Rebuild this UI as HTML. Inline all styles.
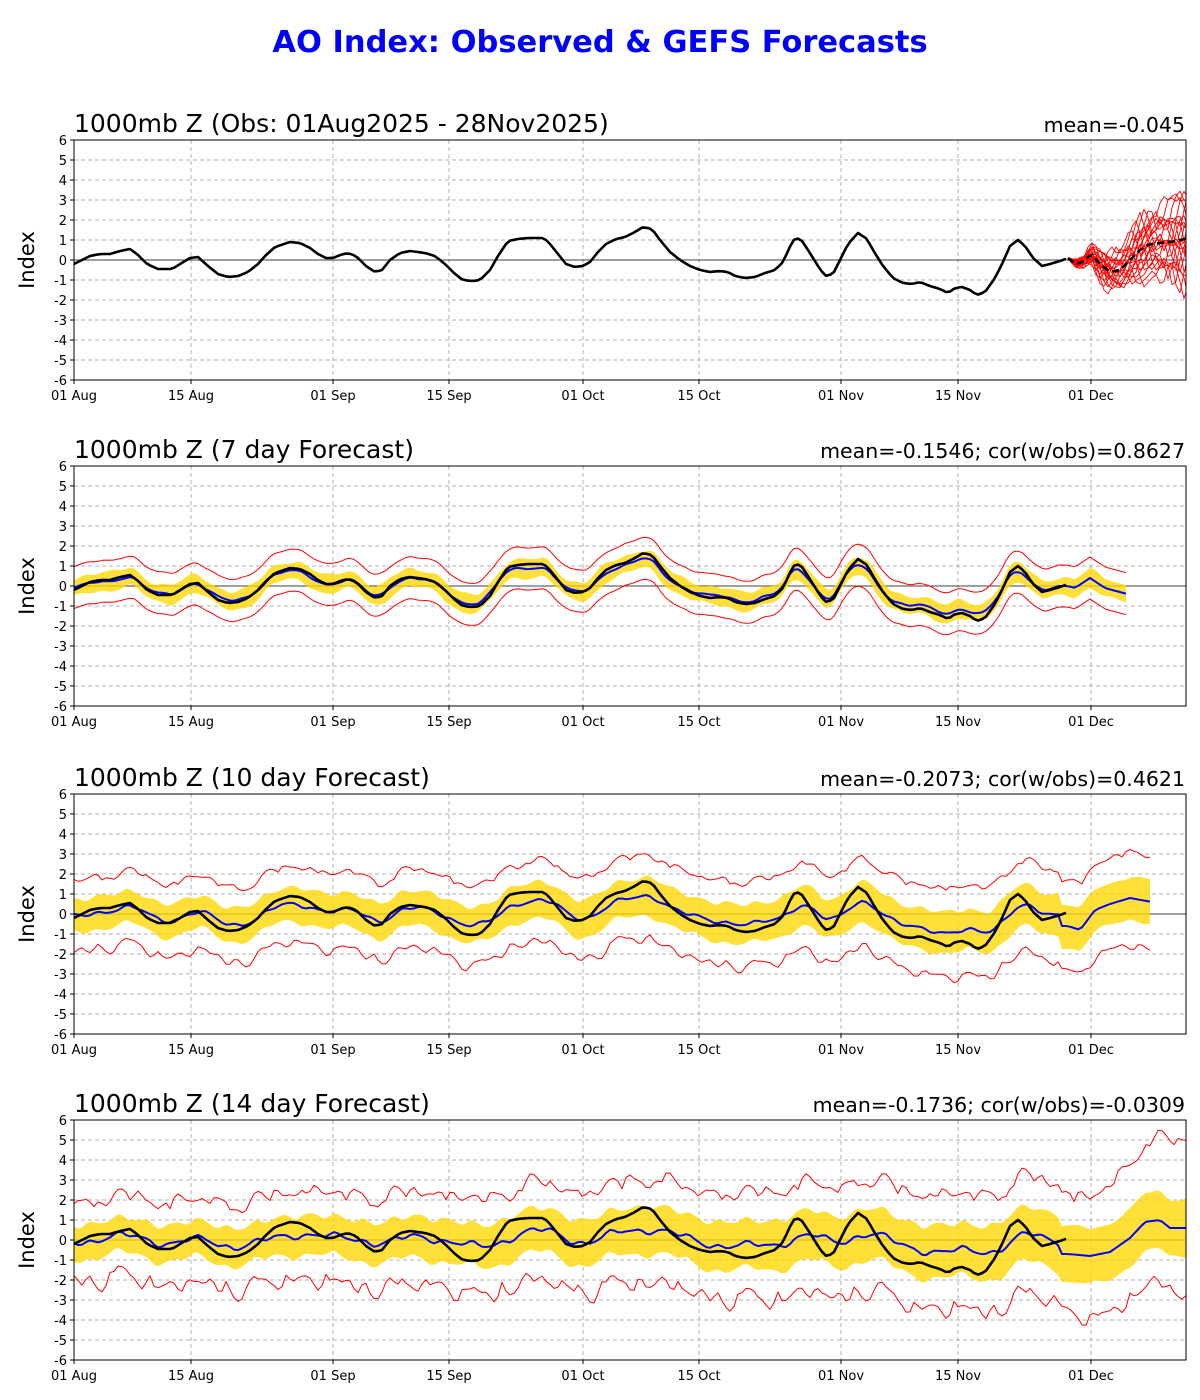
<!DOCTYPE html>
<html><head><meta charset="utf-8"><style>
body{margin:0;background:#fff;}
svg{display:block;font-family:"DejaVu Sans","Liberation Sans",sans-serif;}
</style></head><body>
<svg id="s" width="1200" height="1400" viewBox="0 0 1200 1400" xmlns="http://www.w3.org/2000/svg">
<rect width="1200" height="1400" fill="#fff"/>
<text x="600" y="52" text-anchor="middle" font-size="30.5" font-weight="bold" fill="#0000ff">AO Index: Observed &amp; GEFS Forecasts</text>
<text x="74" y="132" font-size="25">1000mb Z (Obs: 01Aug2025 - 28Nov2025)</text>
<text x="1185" y="132" font-size="20.5" text-anchor="end">mean=-0.045</text>
<text x="74" y="458" font-size="25">1000mb Z (7 day Forecast)</text>
<text x="1185" y="458" font-size="20.5" text-anchor="end">mean=-0.1546; cor(w/obs)=0.8627</text>
<text x="74" y="786" font-size="25">1000mb Z (10 day Forecast)</text>
<text x="1185" y="786" font-size="20.5" text-anchor="end">mean=-0.2073; cor(w/obs)=0.4621</text>
<text x="74" y="1112" font-size="25">1000mb Z (14 day Forecast)</text>
<text x="1185" y="1112" font-size="20.5" text-anchor="end">mean=-0.1736; cor(w/obs)=-0.0309</text>
<g id="g"></g>
</svg>
<script>
var NS="http://www.w3.org/2000/svg",G=document.getElementById('g');
function el(t,a,p){var e=document.createElementNS(NS,t);for(var k in a)e.setAttribute(k,a[k]);(p||G).appendChild(e);return e;}
var tops=[140,466,794,1120],X0=74,X1=1186;
var xt=[[74,"01 Aug"],[191,"15 Aug"],[333,"01 Sep"],[449,"15 Sep"],[583,"01 Oct"],[699,"15 Oct"],[841,"01 Nov"],[958,"15 Nov"],[1091,"01 Dec"]];
var obsP=[[74,-0.2],[90,0.2],[100,0.3],[110,0.3],[120,0.45],[130,0.55],[137,0.3],[147,-0.2],[158,-0.45],[172,-0.45],[180,-0.2],[190,0.1],[198,0.15],[208,-0.3],[218,-0.7],[228,-0.85],[238,-0.8],[248,-0.6],[258,-0.2],[265,0.2],[275,0.65],[290,0.9],[300,0.85],[310,0.6],[318,0.3],[326,0.1],[333,0.1],[340,0.25],[348,0.35],[356,0.2],[366,-0.3],[375,-0.6],[382,-0.5],[390,0],[400,0.35],[410,0.45],[425,0.35],[435,0.2],[445,-0.2],[455,-0.7],[463,-1.0],[472,-1.05],[480,-1.0],[490,-0.5],[498,0.2],[508,0.95],[518,1.05],[528,1.1],[536,1.1],[544,1.1],[550,0.8],[558,0.3],[566,-0.2],[575,-0.35],[583,-0.3],[590,-0.1],[598,0.4],[606,0.8],[616,1.05],[625,1.15],[635,1.4],[643,1.65],[652,1.55],[660,1.0],[670,0.4],[680,0.0],[690,-0.3],[700,-0.5],[710,-0.6],[720,-0.55],[728,-0.6],[735,-0.8],[745,-0.9],[755,-0.85],[765,-0.65],[775,-0.5],[783,-0.1],[793,1.0],[800,1.1],[808,0.5],[818,-0.3],[825,-0.8],[833,-0.7],[840,0],[848,0.8],[858,1.35],[867,1.05],[873,0.5],[883,-0.3],[893,-0.9],[903,-1.15],[912,-1.2],[920,-1.1],[930,-1.3],[940,-1.45],[948,-1.65],[955,-1.4],[962,-1.35],[970,-1.5],[977,-1.75],[985,-1.6],[995,-0.9],[1003,-0.1],[1010,0.7],[1018,1.0],[1025,0.7],[1033,0.1],[1042,-0.3],[1050,-0.2],[1060,-0.05],[1068,0.1]];
function interp(P,x){if(x<=P[0][0])return P[0][1];for(var i=1;i<P.length;i++){if(x<=P[i][0]){var a=P[i-1],b=P[i];return a[1]+(b[1]-a[1])*(x-a[0])/(b[0]-a[0]);}}return P[P.length-1][1];}
function sm(P,x,w){var s=0,n=0;for(var d=-w;d<=w;d+=2){s+=interp(P,x+d);n++;}return s/n;}
function nz(x,k){return Math.sin(x*0.09+k)*0.55+Math.sin(x*0.23+2*k)*0.35+Math.sin(x*0.41+k*3)*0.12;}
function path(pts,top){return pts.map(function(p,i){return (i?"L":"M")+p[0].toFixed(1)+","+(top+120-p[1]*20).toFixed(1);}).join("");}
function line(pts,top,c,w,extra){var a={d:path(pts,top),fill:"none",stroke:c,"stroke-width":w,"stroke-linejoin":"round","clip-path":"url(#c"+top+")"};for(var k in extra)a[k]=extra[k];el("path",a);}
function band(lo,hi,top){var d=path(hi,top)+path(lo.slice().reverse(),top).replace("M","L")+"Z";el("path",{d:d,fill:"#ffd700",opacity:0.78,stroke:"none","clip-path":"url(#c"+top+")"});}
var defs=el("defs",{});
var EXT=[[1068,0.1],[1075,-0.2],[1083,-0.1],[1091,0.3],[1100,-0.2],[1110,-0.6],[1120,-0.5],[1130,0],[1140,0.5],[1150,0.8],[1170,0.9],[1190,1.1]];
tops.forEach(function(top,pi){
 var cp=el("clipPath",{id:"c"+top},defs);el("rect",{x:X0,y:top,width:X1-X0,height:240},cp);
 for(var v=-6;v<=6;v++){var y=top+120-v*20;
  if(v!=0)el("line",{x1:X0,x2:X1,y1:y,y2:y,stroke:"#b0b0b0","stroke-width":1,"stroke-dasharray":"4,3"});
  el("line",{x1:X0-4,x2:X0,y1:y,y2:y,stroke:"#000"});
  var t=el("text",{x:X0-7,y:y+5,"font-size":13,"text-anchor":"end"});t.textContent=v;}
 xt.forEach(function(a){if(a[0]>X0)el("line",{x1:a[0],x2:a[0],y1:top,y2:top+240,stroke:"#b0b0b0","stroke-dasharray":"4,3"});
  el("line",{x1:a[0],x2:a[0],y1:top+240,y2:top+244,stroke:"#000"});
  var t=el("text",{x:a[0],y:top+260,"font-size":13,"text-anchor":"middle"});t.textContent=a[1];});
 el("line",{x1:X0,x2:X1,y1:top+120,y2:top+120,stroke:"#000","stroke-width":0.8});
 var yl=el("text",{x:0,y:0,"font-size":21,"text-anchor":"middle",transform:"translate(34,"+(top+120)+") rotate(-90)"});yl.textContent="Index";
 var obs=[];for(var x=74;x<=1068;x+=4)obs.push([x,interp(obsP,x)]);
 if(pi==0){
  for(var m=0;m<21;m++){var pts=[];
   for(var x=1068;x<=1190;x+=4){var f=(x-1068)/118;var mean=interp(EXT,x);
    pts.push([x,mean+f*((m-10)*0.2+nz(x*1.5,m)*1.3)+Math.sin(x*0.3+m)*0.25*Math.min(1,f*5)]);}
   line(pts,top,"#ff0000",0.9);}
  line(obs,top,"#000",2.6);
  var dm=[];for(var x=1068;x<=1190;x+=4)dm.push([x,interp(EXT,x)]);
  line(dm,top,"#000",2.6,{"stroke-dasharray":"7,4"});
 } else {
  var cfg=[null,{end:1127,amp:0.85,w:4,bw:0.45,rw:1.05,ext:[[1068,0],[1075,-0.1],[1090,0.4],[1105,-0.1],[1127,-0.4]]},
   {end:1152,amp:0.6,w:10,bw:0.8,rw:1.6,ext:[[1068,-0.6],[1080,-0.8],[1095,0.2],[1110,0.5],[1130,0.8],[1152,0.6]]},
   {end:1186,amp:0.4,w:16,bw:0.85,rw:1.6,ext:[[1068,-0.7],[1090,-0.8],[1110,-0.6],[1130,0.1],[1145,0.9],[1160,1.0],[1170,0.6],[1186,0.6]]}][pi];
  var bl=[],bh=[],rl=[],rh=[],mn=[];
  for(var x=74;x<=cfg.end;x+=4){var v=x<=1060?cfg.amp*sm(obsP,x-(pi-1)*4,cfg.w)+nz(x,pi)*0.1*pi:interp(cfg.ext,x);
   var g=1+(x-74)/1100*0.35*(pi-1);mn.push([x,v]);
   bl.push([x,v-cfg.bw*g+nz(x,pi+7)*0.12]);bh.push([x,v+cfg.bw*g+nz(x,pi+9)*0.12]);
   rl.push([x,v-cfg.rw*g-Math.abs(nz(x,pi+2))*0.5*(pi-1)]);rh.push([x,v+cfg.rw*g+Math.abs(nz(x,pi+4))*0.4*(pi-1)+(pi==3&&x>1090?(x-1090)/60:0)]);}
  band(bl,bh,top);line(rl,top,"#ff0000",1);line(rh,top,"#ff0000",1);line(mn,top,"#0000ff",2);line(obs,top,"#000",2.6);
 }
 el("rect",{x:X0,y:top,width:X1-X0,height:240,fill:"none",stroke:"#000","stroke-width":1});
});
</script>
</body></html>
